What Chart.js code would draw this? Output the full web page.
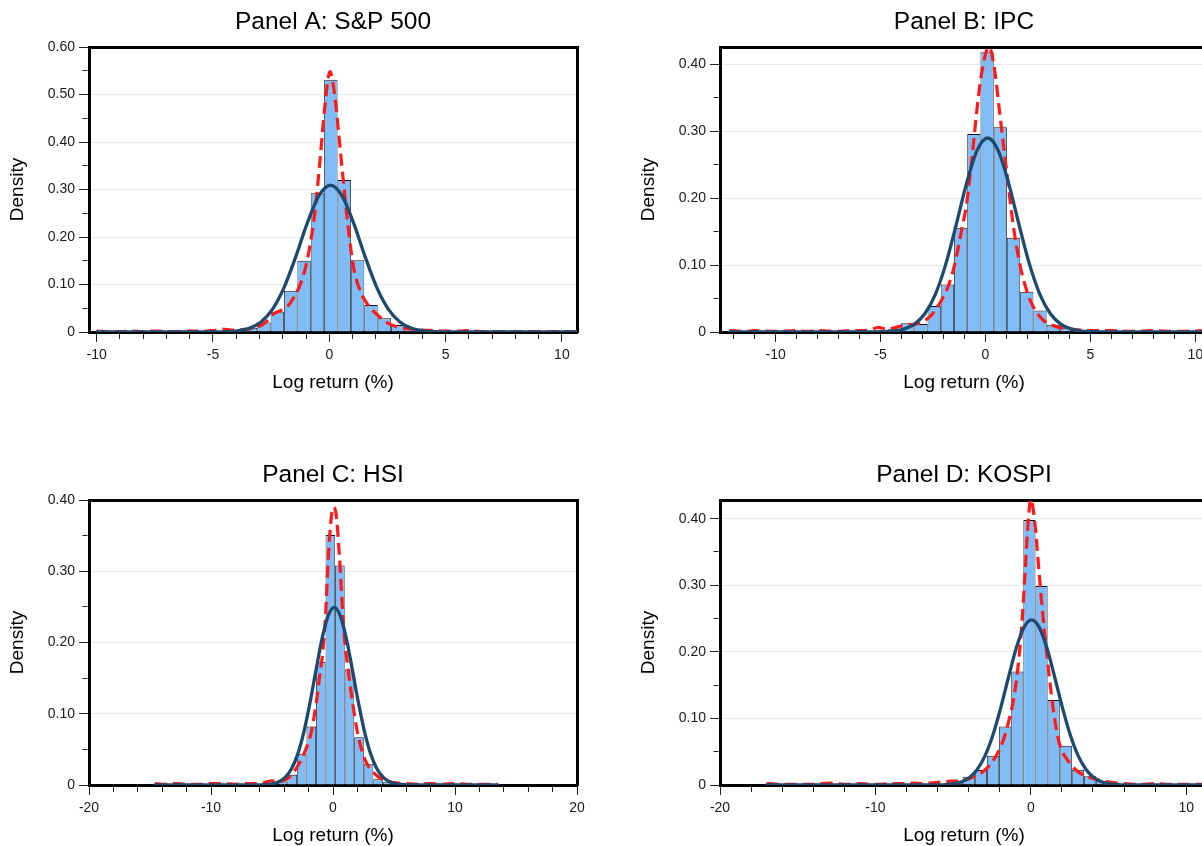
<!DOCTYPE html>
<html>
<head>
<meta charset="utf-8">
<script src="https://cdn.jsdelivr.net/npm/chart.js@4.4.1/dist/chart.umd.min.js"></script>
<style>
html, body { margin: 0; padding: 0; background: #ffffff; }
#wrap { position: relative; width: 1202px; height: 846px; overflow: hidden; background: #ffffff; }
.panel { position: absolute; width: 600px; height: 400px; }
</style>
</head>
<body>
<div id="wrap">
  <div class="panel" style="left:0px; top:0px;"><canvas id="cA" width="600" height="400"></canvas></div>
  <div class="panel" style="left:631px; top:0px;"><canvas id="cB" width="600" height="400"></canvas></div>
  <div class="panel" style="left:0px; top:453px;"><canvas id="cC" width="600" height="400"></canvas></div>
  <div class="panel" style="left:631px; top:453px;"><canvas id="cD" width="600" height="400"></canvas></div>
</div>
<script>
// ================= DATA =================
// ---- Panel A: S&P 500 ----
const aBinCenters = [-4.5325, -3.9575, -3.3825, -2.8075, -2.2325, -1.6575, -1.0825, -0.5075, 0.0675, 0.6425, 1.2175, 1.7925, 2.3675, 2.9425, 3.5175, 4.0925, 4.6675];
const aBinDensity = [0.002, 0.004, 0.009, 0.020, 0.0415, 0.087, 0.150, 0.292, 0.531, 0.320, 0.151, 0.057, 0.029, 0.015, 0.007, 0.004, 0.002];
const aNormalX = [-10, -5.95, -4.95, -4.45, -3.95, -3.45, -2.95, -2.45, -1.95, -1.45, -0.95, -0.45, 0.05, 0.55, 1.05, 1.55, 2.05, 2.55, 3.05, 3.55, 4.05, 4.55, 5.05, 6.05, 10.65];
const aNormalY = [0, 0, 0.0002, 0.0007, 0.0025, 0.0078, 0.0207, 0.0472, 0.0929, 0.1572, 0.2288, 0.2866, 0.309, 0.2866, 0.2288, 0.1572, 0.0929, 0.0472, 0.0207, 0.0078, 0.0025, 0.0007, 0.0002, 0, 0];
const aKernelX = [-10, -9.5, -9, -8.5, -8, -7.5, -7, -6.5, -6, -5.5, -5, -4.6, -4.2, -3.8, -3.4, -3.0, -2.7, -2.4, -2.1, -1.8, -1.5, -1.25, -1.0, -0.8, -0.6, -0.4, -0.2, 0.03, 0.23, 0.4, 0.6, 0.8, 1.03, 1.3, 1.65, 2.07, 2.5, 2.9, 3.4, 4.0, 4.5, 5, 5.5, 6, 6.5, 7, 8, 9, 10.65];
const aKernelY = [0.002, 0.001, 0.001, 0.002, 0.001, 0.002, 0.001, 0.001, 0.002, 0.002, 0.003, 0.006, 0.004, 0.005, 0.007, 0.012, 0.022, 0.038, 0.045, 0.054, 0.075, 0.10, 0.14, 0.19, 0.26, 0.36, 0.47, 0.548, 0.50, 0.42, 0.32, 0.225, 0.14, 0.09, 0.058, 0.036, 0.019, 0.011, 0.007, 0.004, 0.003, 0.002, 0.002, 0.003, 0.001, 0.001, 0.001, 0.001, 0.001];
const aXTickLabels = [-10, -5, 0, 5, 10];
const aYTickLabels = [0, 0.1, 0.2, 0.3, 0.4, 0.5, 0.6];

// ---- Panel B: IPC ----
const bBinCenters = [-4.335, -3.705, -3.075, -2.445, -1.815, -1.185, -0.555, 0.075, 0.705, 1.335, 1.965, 2.595, 3.225, 3.855, 4.485];
const bBinDensity = [0.004, 0.013, 0.012, 0.039, 0.071, 0.156, 0.296, 0.418, 0.306, 0.141, 0.060, 0.032, 0.011, 0.0065, 0.003];
const bNormalX = [-12.2, -5.9, -4.9, -4.4, -3.9, -3.4, -2.9, -2.4, -1.9, -1.4, -0.9, -0.4, 0.1, 0.6, 1.1, 1.6, 2.1, 2.6, 3.1, 3.6, 4.1, 4.6, 5.1, 6.1, 10.6];
const bNormalY = [0, 0, 0.0004, 0.0014, 0.0042, 0.0114, 0.0268, 0.0555, 0.1007, 0.1599, 0.2226, 0.2715, 0.29, 0.2715, 0.2226, 0.1599, 0.1007, 0.0555, 0.0268, 0.0114, 0.0042, 0.0014, 0.0004, 0, 0];
const bKernelX = [-12.2, -11.5, -11, -10, -9, -8.5, -8, -7, -6.5, -6, -5.5, -5.1, -4.8, -4.4, -4.0, -3.6, -3.3, -2.65, -2.18, -1.78, -1.46, -1.14, -0.9, -0.67, -0.43, -0.19, 0.17, 0.44, 0.68, 1.0, 1.31, 1.63, 1.95, 2.27, 2.74, 3.38, 4.17, 5, 6, 7, 8, 9, 10.6];
const bKernelY = [0.002, 0.001, 0.002, 0.001, 0.002, 0.001, 0.002, 0.001, 0.002, 0.002, 0.003, 0.007, 0.005, 0.006, 0.009, 0.011, 0.012, 0.023, 0.043, 0.068, 0.102, 0.152, 0.192, 0.252, 0.326, 0.386, 0.426, 0.39, 0.326, 0.242, 0.162, 0.102, 0.063, 0.038, 0.018, 0.008, 0.004, 0.002, 0.002, 0.001, 0.002, 0.001, 0.002];
const bXTickLabels = [-10, -5, 0, 5, 10];
const bYTickLabels = [0, 0.1, 0.2, 0.3, 0.4];

// ---- Panel C: HSI ----
const cBinCenters = [-4.912, -4.13, -3.347, -2.565, -1.782, -1.0, -0.217, 0.565, 1.348, 2.13, 2.913, 3.695, 4.478];
const cBinDensity = [0.003, 0.005, 0.0145, 0.044, 0.082, 0.173, 0.351, 0.308, 0.162, 0.067, 0.029, 0.008, 0.004];
const cNormalX = [-14.6, -6.9, -5.9, -5.4, -4.9, -4.4, -3.9, -3.4, -2.9, -2.4, -1.9, -1.4, -0.9, -0.4, 0.1, 0.6, 1.1, 1.6, 2.1, 2.6, 3.1, 3.6, 4.1, 4.6, 5.1, 5.6, 6.1, 7.1, 13.5];
const cNormalY = [0, 0, 0.0002, 0.0007, 0.0019, 0.0048, 0.0110, 0.0228, 0.0430, 0.0736, 0.1142, 0.1606, 0.2051, 0.2374, 0.2493, 0.2374, 0.2051, 0.1606, 0.1142, 0.0736, 0.0430, 0.0228, 0.0110, 0.0048, 0.0019, 0.0007, 0.0002, 0, 0];
const cKernelX = [-14.6, -14, -13, -12, -11, -10, -9, -8, -7, -6, -5.5, -5, -4.5, -3.56, -2.88, -2.33, -1.78, -1.37, -1.09, -0.82, -0.6, -0.41, -0.19, 0.03, 0.28, 0.49, 0.69, 0.88, 1.24, 1.6, 2.06, 2.61, 3.29, 4.12, 5.2, 6, 7, 8, 9, 10, 11, 12, 13.5];
const cKernelY = [0.002, 0.001, 0.002, 0.001, 0.001, 0.002, 0.002, 0.001, 0.002, 0.002, 0.004, 0.006, 0.005, 0.011, 0.027, 0.046, 0.074, 0.116, 0.153, 0.19, 0.241, 0.311, 0.367, 0.39, 0.377, 0.33, 0.274, 0.218, 0.162, 0.116, 0.069, 0.036, 0.018, 0.0075, 0.003, 0.002, 0.001, 0.002, 0.001, 0.002, 0.001, 0.001, 0.001];
const cXTickLabels = [-20, -10, 0, 10, 20];
const cYTickLabels = [0, 0.1, 0.2, 0.3, 0.4];

// ---- Panel D: KOSPI ----
const dBinCenters = [-4.77, -3.99, -3.21, -2.43, -1.65, -0.87, -0.09, 0.69, 1.47, 2.25, 3.03, 3.81, 4.59, 5.37];
const dBinDensity = [0.005, 0.0125, 0.0225, 0.044, 0.088, 0.1705, 0.398, 0.299, 0.1275, 0.059, 0.023, 0.013, 0.0065, 0.003];
const dNormalX = [-17, -6.95, -5.95, -5.45, -4.95, -4.45, -3.95, -3.45, -2.95, -2.45, -1.95, -1.45, -0.95, -0.45, 0.05, 0.55, 1.05, 1.55, 2.05, 2.55, 3.05, 3.55, 4.05, 4.55, 5.05, 5.55, 6.05, 7.05, 11.4];
const dNormalY = [0, 0, 0.0002, 0.0007, 0.0020, 0.0050, 0.0113, 0.0233, 0.0437, 0.0743, 0.1147, 0.1607, 0.2045, 0.2363, 0.248, 0.2363, 0.2045, 0.1607, 0.1147, 0.0743, 0.0437, 0.0233, 0.0113, 0.0050, 0.0020, 0.0007, 0.0002, 0, 0];
const dKernelX = [-17, -16, -15, -14, -13, -12, -11, -10, -9, -8, -7.5, -7, -6.5, -6, -5.5, -5, -4.61, -3.75, -3.0, -2.36, -1.82, -1.44, -1.07, -0.75, -0.54, -0.37, -0.22, 0.0, 0.28, 0.53, 0.86, 1.18, 1.5, 1.82, 2.46, 3.1, 3.96, 4.82, 6, 7, 8, 9, 10, 11.4];
const dKernelY = [0.002, 0.001, 0.001, 0.001, 0.003, 0.001, 0.002, 0.001, 0.002, 0.002, 0.003, 0.002, 0.003, 0.004, 0.005, 0.006, 0.006, 0.0115, 0.0215, 0.039, 0.064, 0.094, 0.134, 0.194, 0.254, 0.319, 0.379, 0.429, 0.389, 0.319, 0.234, 0.164, 0.104, 0.064, 0.034, 0.019, 0.01, 0.005, 0.002, 0.001, 0.002, 0.001, 0.001, 0.001];
const dXTickLabels = [-20, -10, 0, 10];
const dYTickLabels = [0, 0.1, 0.2, 0.3, 0.4];

// ================= STYLE / SETUP =================
const NAVY = '#1f4a6f';
const RED = '#ff1a1a';
const BLUE = '#80bcf6';
const GRID = '#e3ecf0';

Chart.defaults.font.family = "'Liberation Sans', Arial, Helvetica, sans-serif";
Chart.defaults.color = '#1a1a1a';

const panels = [
  { id: 'cA', title: 'Panel A: S&P 500', bins: aBinCenters, dens: aBinDensity, nx: aNormalX, ny: aNormalY, kx: aKernelX, ky: aKernelY,
    xMin: -10.33, xMax: 10.65, xStep: 1, xMajor: aXTickLabels, yMax: 0.60, yMajor: aYTickLabels },
  { id: 'cB', title: 'Panel B: IPC', bins: bBinCenters, dens: bBinDensity, nx: bNormalX, ny: bNormalY, kx: bKernelX, ky: bKernelY,
    xMin: -12.65, xMax: 10.6, xStep: 1, xMajor: bXTickLabels, yMax: 0.426, yMajor: bYTickLabels },
  { id: 'cC', title: 'Panel C: HSI', bins: cBinCenters, dens: cBinDensity, nx: cNormalX, ny: cNormalY, kx: cKernelX, ky: cKernelY,
    xMin: -20, xMax: 20, xStep: 2, xMajor: cXTickLabels, yMax: 0.40, yMajor: cYTickLabels },
  { id: 'cD', title: 'Panel D: KOSPI', bins: dBinCenters, dens: dBinDensity, nx: dNormalX, ny: dNormalY, kx: dKernelX, ky: dKernelY,
    xMin: -20, xMax: 11.4, xStep: 2, xMajor: dXTickLabels, yMax: 0.428, yMajor: dYTickLabels }
];

function zip(xs, ys) { return xs.map((x, i) => ({ x: x, y: ys[i] })); }
function isIn(v, list) { return list.some(m => Math.abs(m - v) < 1e-6); }
function ticksBetween(min, max, step) {
  const out = [];
  const s = Math.ceil(min / step - 1e-9), e = Math.floor(max / step + 1e-9);
  for (let i = s; i <= e; i++) out.push({ value: Math.round(i * step * 1e6) / 1e6 });
  return out;
}

function makeChart(p) {
  const el = document.getElementById(p.id);
  return new Chart(el, {
    type: 'line',
    data: {
      datasets: [
        { type: 'line', label: 'Normal', data: zip(p.nx, p.ny), borderColor: NAVY, borderWidth: 3.3,
          borderCapStyle: 'round', pointRadius: 0, cubicInterpolationMode: 'monotone', fill: false, order: 0 },
        { type: 'line', label: 'Kernel', data: zip(p.kx, p.ky), borderColor: RED, borderWidth: 3.2,
          borderDash: [12, 6], pointRadius: 0, cubicInterpolationMode: 'monotone', fill: false, order: 1 },
        { type: 'bar', label: 'Histogram', data: zip(p.bins, p.dens), backgroundColor: BLUE, borderColor: '#111',
          borderWidth: { top: 1, left: 0.8, right: 0.8, bottom: 0 }, barPercentage: 1, categoryPercentage: 1,
          inflateAmount: 0, order: 2 }
      ]
    },
    options: {
      responsive: false,
      animation: false,
      events: [],
      layout: { padding: { left: 0, right: 23, top: 0, bottom: 0 } },
      plugins: {
        legend: { display: false },
        tooltip: { enabled: false },
        title: { display: true, text: p.title, fullSize: false, color: '#000', align: 'center',
                 font: { size: 24.5, weight: 'normal' }, padding: { top: 8, bottom: 9.6 } }
      },
      scales: {
        x: {
          type: 'linear', position: 'bottom', min: p.xMin, max: p.xMax, offset: false, bounds: 'data',
          afterBuildTicks: s => { s.ticks = ticksBetween(p.xMin, p.xMax, p.xStep); },
          afterFit: s => { s.height = 68; },
          ticks: { autoSkip: false, maxRotation: 0, minRotation: 0, padding: 5, color: '#1a1a1a', font: { size: 14 },
                   callback: v => isIn(v, p.xMajor) ? String(Math.round(v)) : '' },
          grid: { offset: false, drawOnChartArea: false, drawTicks: true, tickLength: 10, tickColor: '#222', tickWidth: 1,
                  tickBorderDash: c => (c.tick && isIn(c.tick.value, p.xMajor)) ? [] : [5, 50] },
          border: { display: true, color: '#000', width: 3 },
          title: { display: true, text: 'Log return (%)', color: '#000', font: { size: 19 }, padding: { top: 0, bottom: 6.1 } }
        },
        y: {
          type: 'linear', position: 'left', min: 0, max: p.yMax, bounds: 'data',
          afterBuildTicks: s => { s.ticks = ticksBetween(0, p.yMax, 0.05); },
          afterFit: s => { s.width = 89; },
          ticks: { autoSkip: false, padding: 4, color: '#1a1a1a', font: { size: 14 },
                   callback: v => isIn(v, p.yMajor) ? (Math.abs(v) < 1e-9 ? '0' : Number(v).toFixed(2)) : '' },
          grid: { drawOnChartArea: true, drawTicks: true, tickLength: 10, tickColor: '#222', tickWidth: 1, lineWidth: 1,
                  color: c => (c.tick && c.tick.value > 1e-9 && isIn(c.tick.value, p.yMajor)) ? GRID : 'rgba(0,0,0,0)',
                  tickBorderDash: c => (c.tick && isIn(c.tick.value, p.yMajor)) ? [] : [0, 3.5, 5, 50] },
          border: { display: true, color: '#000', width: 3 },
          title: { display: true, text: 'Density', color: '#000', font: { size: 19 }, padding: { top: 6, bottom: 0 } }
        },
        x2: {
          type: 'linear', position: 'top', min: 0, max: 1, display: true,
          afterFit: s => { s.height = 0; },
          ticks: { display: false },
          grid: { drawOnChartArea: false, drawTicks: false },
          border: { display: true, color: '#000', width: 3 }
        },
        y2: {
          type: 'linear', position: 'right', min: 0, max: 1, display: true,
          afterFit: s => { s.width = 0; },
          ticks: { display: false },
          grid: { drawOnChartArea: false, drawTicks: false },
          border: { display: true, color: '#000', width: 3 }
        }
      }
    }
  });
}

panels.forEach(makeChart);
</script>
</body>
</html>
